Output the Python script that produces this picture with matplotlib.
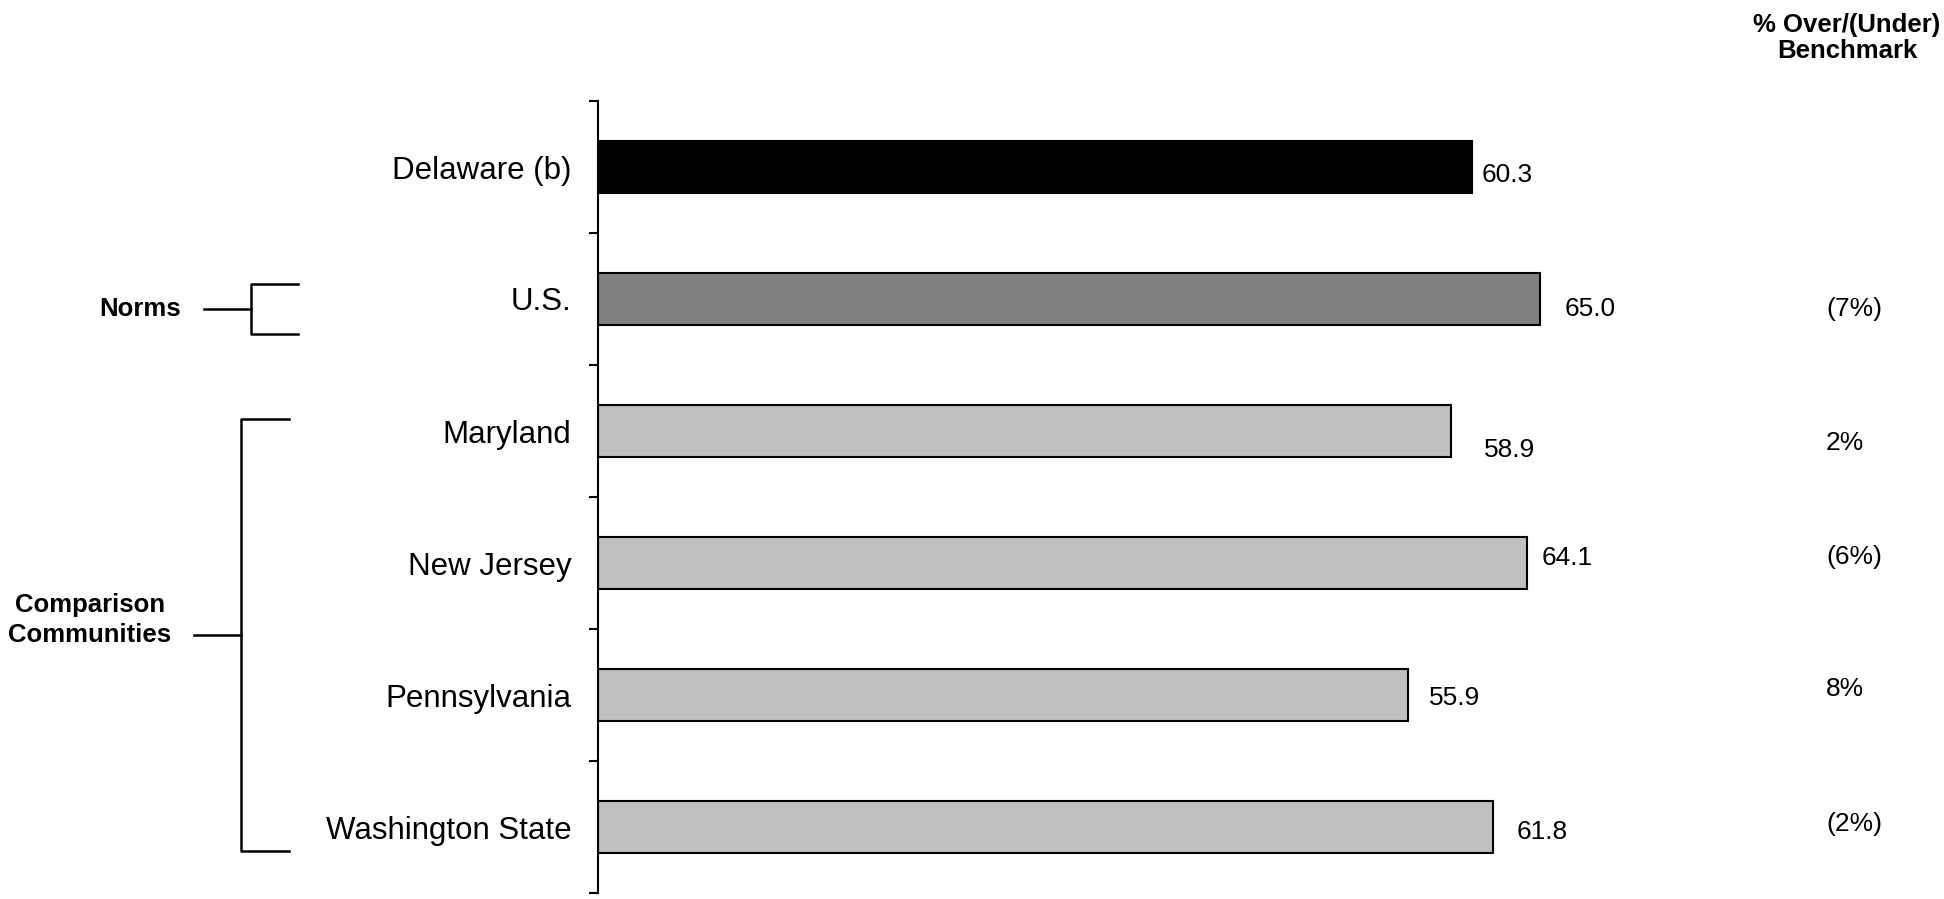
import numpy as np
import matplotlib.pyplot as plt
from matplotlib.lines import Line2D

plt.rcParams['font.family'] = ['Liberation Sans', 'DejaVu Sans']

categories = ["Delaware (b)", "U.S.", "Maryland", "New Jersey", "Pennsylvania", "Washington State"]
values = [60.3, 65.0, 58.9, 64.1, 55.9, 61.8]
value_labels = ["60.3", "65.0", "58.9", "64.1", "55.9", "61.8"]
pct_labels = ["", "(7%)", "2%", "(6%)", "8%", "(2%)"]
bar_colors = ["#000000", "#808080", "#C0C0C0", "#C0C0C0", "#C0C0C0", "#C0C0C0"]

# label nudges in pixels (dx, dy down), as placed in the source
val_offsets = [(10, 8), (25, 10), (32, 19), (15, -5), (21, 3), (23, 5)]
pct_offsets = [0, 10, 12, -6, -6, -3]

W, H = 1944, 899
fig = plt.figure(figsize=(W / 100, H / 100), dpi=100)
ax = fig.add_axes([598 / W, 6 / H, 1 - 598 / W, 792 / H])

y = np.arange(len(categories))
ax.barh(y, values, height=0.4, color=bar_colors, edgecolor="black", linewidth=1.5)
ax.set_ylim(len(categories) - 0.5, -0.5)
ax.set_xlim(0, 1346 / 14.49)

for s in ["top", "right", "bottom"]:
    ax.spines[s].set_visible(False)
ax.spines["left"].set_linewidth(1.5)
ax.set_xticks([])
ax.set_yticks(y)
ax.set_yticklabels(categories, fontsize=22.5)
ax.set_yticks(np.arange(-0.5, len(categories)), minor=True)
ax.tick_params(axis="y", which="major", length=0, pad=19)
ax.tick_params(axis="y", which="minor", length=6.5, width=1.5, direction="out")

for i, (v, lab) in enumerate(zip(values, value_labels)):
    dx, dy = val_offsets[i]
    ax.annotate(lab, xy=(v, i), xytext=(dx * 0.72, -dy * 0.72), textcoords="offset points",
                ha="left", va="center", fontsize=19)

for i, lab in enumerate(pct_labels):
    if lab:
        ax.annotate(lab, xy=(1826 / W, i), xycoords=("figure fraction", "data"),
                    xytext=(0, -pct_offsets[i] * 0.72), textcoords="offset points",
                    ha="left", va="center", fontsize=19)

fig.text(1847 / W, 1 - 38 / H, "% Over/(Under)\nBenchmark", ha="center", va="center",
         fontsize=18.5, fontweight="bold", linespacing=1.1)

# group brackets on the left
def fl(xs, ys):
    fig.add_artist(Line2D([x / W for x in xs], [1 - v / H for v in ys], color="black",
                          linewidth=1.8, transform=fig.transFigure))

fl([204, 251], [309, 309])
fl([298, 251, 251, 298], [284, 284, 334, 334])
fig.text(140 / W, 1 - 309 / H, "Norms", ha="center", va="center", fontsize=18.5, fontweight="bold")

fl([194, 241], [635, 635])
fl([289, 241, 241, 289], [419, 419, 851, 851])
fig.text(90 / W, 1 - 620 / H, "Comparison\nCommunities", ha="center", va="center",
         fontsize=18.5, fontweight="bold", linespacing=1.3)

fig.savefig("out.png", dpi=100)
